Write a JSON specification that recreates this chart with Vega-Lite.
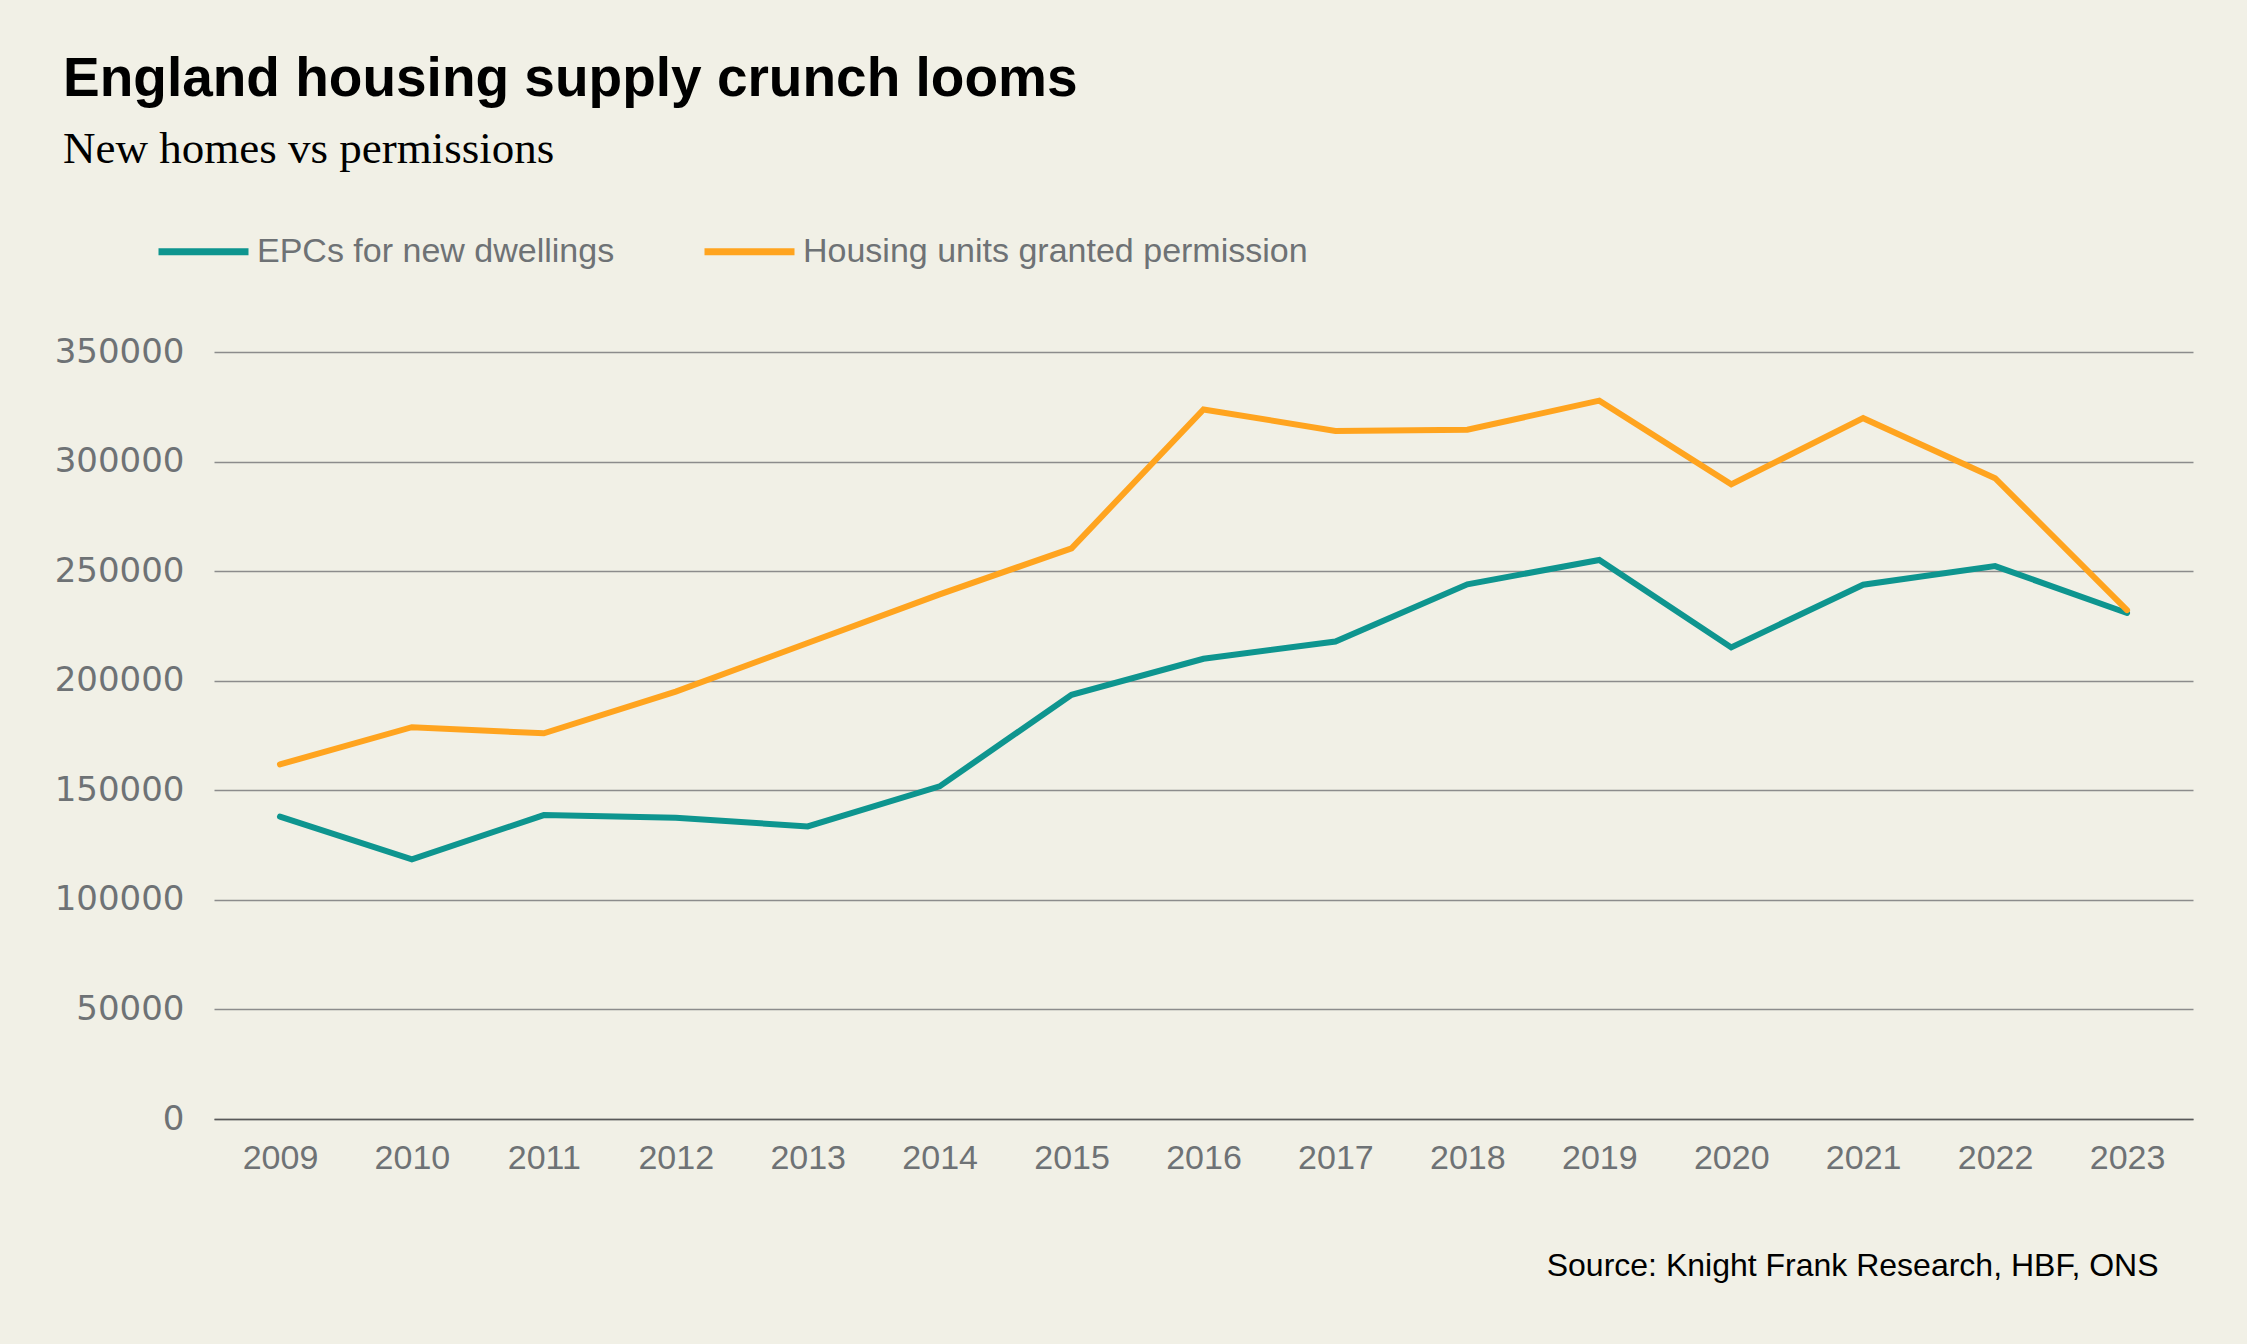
{
  "$schema": "https://vega.github.io/schema/vega-lite/v6.json",
  "width": 1979,
  "height": 767,
  "autosize": {"type": "none"},
  "padding": {"left": 214, "top": 352, "right": 54, "bottom": 225},
  "background": "#f1f0e6",
  "title": {
    "text": "England housing supply crunch looms",
    "subtitle": "New homes vs permissions",
    "anchor": "start",
    "frame": "group",
    "dx": -151,
    "offset": 30,
    "font": "Liberation Sans",
    "fontSize": 55,
    "fontWeight": "bold",
    "color": "#000000",
    "subtitleFont": "Liberation Serif",
    "subtitleFontSize": 45,
    "subtitleColor": "#000000",
    "subtitlePadding": 19
  },
  "data": {
    "values": [
      {"year": "2009", "series": "EPCs for new dwellings", "value": 138000},
      {"year": "2010", "series": "EPCs for new dwellings", "value": 118500},
      {"year": "2011", "series": "EPCs for new dwellings", "value": 138700},
      {"year": "2012", "series": "EPCs for new dwellings", "value": 137500},
      {"year": "2013", "series": "EPCs for new dwellings", "value": 133500},
      {"year": "2014", "series": "EPCs for new dwellings", "value": 151800},
      {"year": "2015", "series": "EPCs for new dwellings", "value": 193600},
      {"year": "2016", "series": "EPCs for new dwellings", "value": 210000},
      {"year": "2017", "series": "EPCs for new dwellings", "value": 217900},
      {"year": "2018", "series": "EPCs for new dwellings", "value": 244000},
      {"year": "2019", "series": "EPCs for new dwellings", "value": 255100},
      {"year": "2020", "series": "EPCs for new dwellings", "value": 215200},
      {"year": "2021", "series": "EPCs for new dwellings", "value": 243800},
      {"year": "2022", "series": "EPCs for new dwellings", "value": 252300},
      {"year": "2023", "series": "EPCs for new dwellings", "value": 230900},
      {"year": "2009", "series": "Housing units granted permission", "value": 161800},
      {"year": "2010", "series": "Housing units granted permission", "value": 178800},
      {"year": "2011", "series": "Housing units granted permission", "value": 176000},
      {"year": "2012", "series": "Housing units granted permission", "value": 195000},
      {"year": "2013", "series": "Housing units granted permission", "value": 217200},
      {"year": "2014", "series": "Housing units granted permission", "value": 239400},
      {"year": "2015", "series": "Housing units granted permission", "value": 260400},
      {"year": "2016", "series": "Housing units granted permission", "value": 323800},
      {"year": "2017", "series": "Housing units granted permission", "value": 314000},
      {"year": "2018", "series": "Housing units granted permission", "value": 314500},
      {"year": "2019", "series": "Housing units granted permission", "value": 327800},
      {"year": "2020", "series": "Housing units granted permission", "value": 289600},
      {"year": "2021", "series": "Housing units granted permission", "value": 319800},
      {"year": "2022", "series": "Housing units granted permission", "value": 292400},
      {"year": "2023", "series": "Housing units granted permission", "value": 232200}
    ]
  },
  "mark": {"type": "line", "strokeWidth": 6, "strokeCap": "round"},
  "encoding": {
    "x": {
      "field": "year",
      "type": "ordinal",
      "scale": {"type": "point", "padding": 0.5},
      "axis": {
        "title": "Source: Knight Frank Research, HBF, ONS",
        "titleFont": "Liberation Sans",
        "titleFontSize": 32,
        "titleFontWeight": "normal",
        "titleColor": "#000000",
        "titleAlign": "right",
        "titleAnchor": null,
        "titleBaseline": "alphabetic",
        "titleX": 1944,
        "titleY": 156,
        "labelAngle": 0,
        "labelFont": "Liberation Sans",
        "labelFontSize": 34,
        "labelColor": "#6e7275",
        "labelPadding": 22,
        "ticks": false,
        "domain": true,
        "domainColor": "#595959",
        "domainWidth": 1.5,
        "grid": false
      }
    },
    "y": {
      "field": "value",
      "type": "quantitative",
      "scale": {"domain": [0, 350000], "nice": false},
      "axis": {
        "title": null,
        "values": [0, 50000, 100000, 150000, 200000, 250000, 300000, 350000],
        "format": "d",
        "labelFont": "DejaVu Sans",
        "labelFontSize": 34,
        "labelColor": "#6e7275",
        "labelPadding": 30,
        "ticks": false,
        "domain": false,
        "grid": true,
        "gridColor": "#8c8c8c",
        "gridWidth": 1.5
      }
    },
    "color": {
      "field": "series",
      "type": "nominal",
      "scale": {
        "domain": ["EPCs for new dwellings", "Housing units granted permission"],
        "range": ["#0e958f", "#ffa41f"]
      },
      "legend": {
        "title": null,
        "orient": "none",
        "legendX": -59,
        "legendY": -149,
        "direction": "horizontal",
        "symbolType": "stroke",
        "symbolSize": 8100,
        "symbolStrokeWidth": 7,
        "labelFont": "Liberation Sans",
        "labelFontSize": 34,
        "labelColor": "#6e7275",
        "labelOffset": 5,
        "columnPadding": 75,
        "labelLimit": 800
      }
    }
  },
  "config": {
    "view": {"stroke": null}
  }
}
